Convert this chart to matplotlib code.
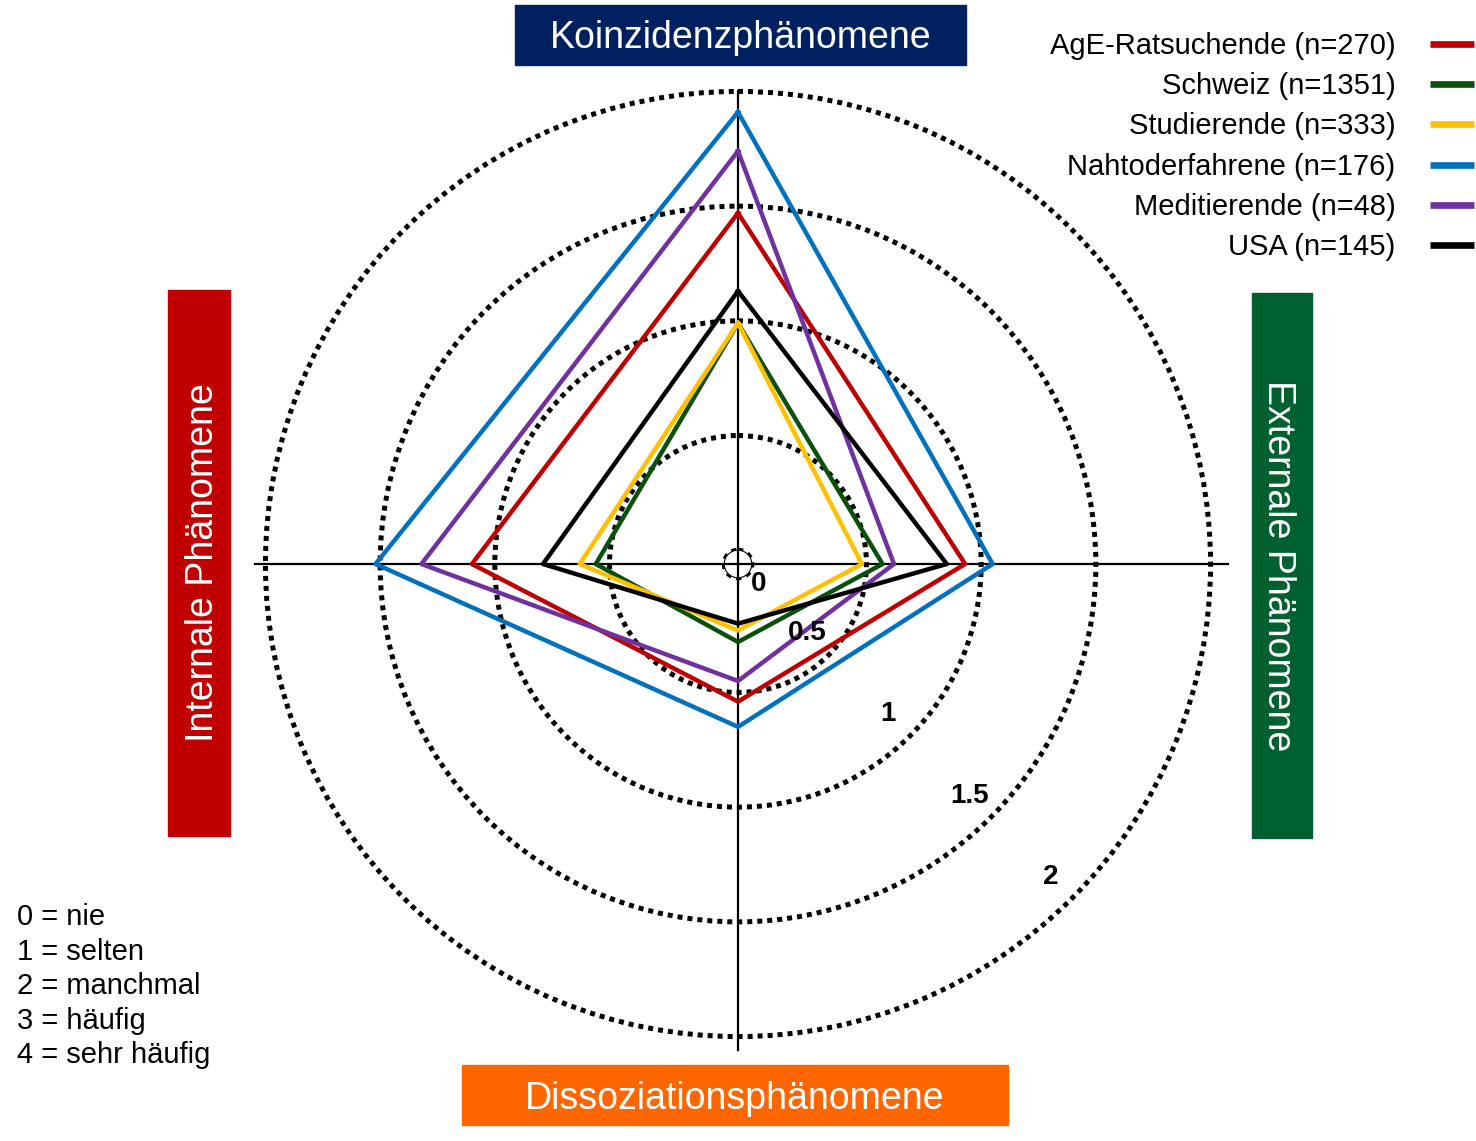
import matplotlib.pyplot as plt
from matplotlib.patches import Rectangle
from matplotlib.lines import Line2D
import numpy as np

plt.rcParams['font.family'] = ['Liberation Sans', 'DejaVu Sans']

# Achsen im Uhrzeigersinn ab oben
dimensions = ["Koinzidenzphänomene", "Externale Phänomene",
              "Dissoziationsphänomene", "Internale Phänomene"]

groups = ["AgE-Ratsuchende (n=270)", "Schweiz (n=1351)", "Studierende (n=333)",
          "Nahtoderfahrene (n=176)", "Meditierende (n=48)", "USA (n=145)"]
colors = ["#C00000", "#0A4F0A", "#FFC000", "#0070C0", "#7030A0", "#000000"]

# Mittelwerte je Gruppe: oben, rechts, unten, links
age_ratsuchende = [1.47, 0.93, 0.54, 1.10]
schweiz = [0.99, 0.57, 0.28, 0.56]
studierende = [0.99, 0.48, 0.23, 0.63]
nahtoderfahrene = [1.91, 1.05, 0.65, 1.52]
meditierende = [1.74, 0.62, 0.45, 1.32]
usa = [1.13, 0.85, 0.20, 0.79]
values = [age_ratsuchende, schweiz, studierende, nahtoderfahrene, meditierende, usa]

scale_ticks = [0, 0.5, 1, 1.5, 2]
scale_labels = ["0", "0.5", "1", "1.5", "2"]
key_lines = ["0 = nie", "1 = selten", "2 = manchmal", "3 = häufig", "4 = sehr häufig"]

W, H = 1476, 1141
fig = plt.figure(figsize=(W / 100, H / 100), dpi=100)


def fx(x):
    return x / W


def fy(y):
    return 1 - y / H


# polar axes centred on (738, 564), outer radius 490 px
ax = fig.add_axes([fx(248), fy(1054), 980 / W, 980 / H], projection="polar")
ax.set_theta_zero_location("N")
ax.set_theta_direction(-1)
rmax = 2.076
ax.set_rorigin(-0.06)
ax.set_ylim(0, rmax)
ax.spines["polar"].set_visible(False)
ax.set_facecolor("none")
ax.set_xticks([])
ax.set_yticks(scale_ticks)
ax.set_yticklabels([])
ax.yaxis.grid(True, color="black", linestyle=(0, (1, 1)), linewidth=3.6)
ax.tick_params(length=0)

theta = np.deg2rad([0, 90, 180, 270])

# Achsenkreuz
ax.plot([theta[0], theta[2]], [2.0, 2.06], color="black", lw=1.6, clip_on=False, zorder=2)
ax.plot([theta[1], theta[3]], [rmax, 2.046], color="black", lw=1.6, clip_on=False, zorder=2)

for vals, col, name in zip(values, colors, groups):
    t = np.append(theta, theta[0])
    r = np.append(vals, vals[0])
    ax.plot(t, r, color=col, lw=3.2, zorder=3, label=name)

# Skalenbeschriftung diagonal rechts unten
for tick, lab in zip(scale_ticks, scale_labels):
    d = 15.5 if tick > 0 else -7.5
    ax.annotate(lab, xy=(np.deg2rad(135), tick), xytext=(-d, d),
                textcoords="offset points", ha="center", va="center",
                fontsize=20, fontweight="bold", zorder=5)

# Titelkästen
boxes = [
    (515, 5, 451, 60, "#002060", 0, 0, 3),
    (1252, 293, 60, 545, "#006030", -90, -4, 0),
    (462, 1065, 546, 60, "#FF6600", 0, 0, 4),
    (168, 290, 62, 546, "#C00000", 90, 4, 0),
]
for (x, y, w, h, col, rot, dx, dy), name in zip(boxes, dimensions):
    fig.add_artist(Rectangle((fx(x), fy(y + h)), w / W, h / H,
                             transform=fig.transFigure, color=col, zorder=1))
    fig.text(fx(x + w / 2 + dx), fy(y + h / 2 + dy), name, color="white", fontsize=27,
             rotation=rot, ha="center", va="center")

# Legende
handles = [Line2D([], [], color=c, lw=4.8, solid_capstyle="butt") for c in colors]
fig.legend(handles, groups, loc="upper right", bbox_to_anchor=(fx(1474), fy(32)),
           markerfirst=False, frameon=False, fontsize=21, handlelength=1.5,
           handletextpad=1.2, labelspacing=0.42, borderpad=0, borderaxespad=0)

fig.text(fx(17), fy(903), "\n".join(key_lines), fontsize=21, ha="left", va="top",
         linespacing=1.3)

fig.savefig("out.png", dpi=100)
